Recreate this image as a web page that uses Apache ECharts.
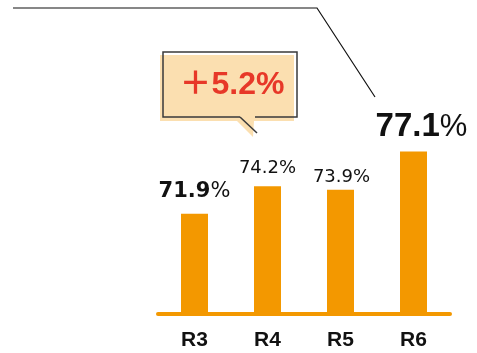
<!DOCTYPE html>
<html>
<head>
<meta charset="utf-8">
<style>html,body{margin:0;padding:0;background:#fff;}#c{width:477px;height:353px;}</style>
<script src="https://cdn.jsdelivr.net/npm/echarts@6/dist/echarts.min.js"></script>
</head>
<body>
<div id="c"></div>
<script>
const categories = ['R3', 'R4', 'R5', 'R6'];
const values = [71.9, 74.2, 73.9, 77.1];
const calloutText = '＋5.2%';

const ORANGE = '#F39800';
const chart = echarts.init(document.getElementById('c'), null, {renderer: 'canvas'});

const labelStyles = [
  {distance: 12, offset: [0, 0], fmt: v => '{b|' + v.toFixed(1) + '}{p|%}', rich: {b: {fontFamily: 'DejaVu Sans', fontWeight: 'bold', fontSize: 21, color: '#111'}, p: {fontFamily: 'DejaVu Sans', fontSize: 21, color: '#111'}}},
  {distance: 9, offset: [0, 0], fmt: v => '{n|' + v.toFixed(1) + '%}', rich: {n: {fontFamily: 'DejaVu Sans', fontSize: 18, color: '#111'}}},
  {distance: 4, offset: [1, 0], fmt: v => '{n|' + v.toFixed(1) + '%}', rich: {n: {fontFamily: 'DejaVu Sans', fontSize: 18, color: '#111'}}},
  {distance: 8, offset: [8, 0], fmt: v => '{b|' + v.toFixed(1) + '}{p|%}', rich: {b: {fontFamily: 'Liberation Sans', fontWeight: 'bold', fontSize: 33, color: '#111'}, p: {fontFamily: 'Liberation Sans', fontSize: 31, color: '#111'}}}
];

const seriesData = values.map((v, i) => ({
  value: v,
  label: {
    show: true,
    position: 'top',
    distance: labelStyles[i].distance,
    offset: labelStyles[i].offset,
    formatter: labelStyles[i].fmt(v),
    rich: labelStyles[i].rich
  }
}));

chart.setOption({
  animation: false,
  grid: {left: 158, right: 27, top: 117, bottom: 39},
  xAxis: {
    type: 'category',
    data: categories,
    axisTick: {show: false},
    axisLine: {show: true, lineStyle: {color: ORANGE, width: 4}},
    axisLabel: {color: '#111', fontFamily: 'Liberation Sans', fontWeight: 'bold', fontSize: 21, margin: 16}
  },
  yAxis: {
    type: 'value',
    min: 63.5,
    max: 80,
    show: false,
    splitLine: {show: false}
  },
  series: [{
    type: 'bar',
    data: seriesData,
    barWidth: 27,
    itemStyle: {color: ORANGE}
  }],
  graphic: [
    {
      type: 'polyline',
      shape: {points: [[13, 8], [317, 8], [375, 97]]},
      style: {stroke: '#111', lineWidth: 1.2, fill: null},
      z: 10
    },
    {
      type: 'polygon',
      shape: {points: [[160, 55], [294, 55], [294, 121], [254, 121], [253, 137], [237, 121], [160, 121]]},
      style: {fill: '#FBDFB0', stroke: null},
      z: 10
    },
    {
      type: 'polyline',
      shape: {points: [[240, 117], [163, 117], [163, 52], [297, 52], [297, 117], [255, 117]]},
      style: {stroke: '#3a3a3a', lineWidth: 1.5, fill: null},
      z: 11
    },
    {
      type: 'line',
      shape: {x1: 240, y1: 117, x2: 257, y2: 133},
      style: {stroke: '#3a3a3a', lineWidth: 1.5},
      z: 11
    },
    {
      type: 'text',
      x: 232,
      y: 85,
      style: {
        text: calloutText,
        fill: '#E73828',
        font: 'bold 32px "Liberation Sans", "Noto Sans CJK SC"',
        align: 'center',
        verticalAlign: 'middle'
      },
      z: 12
    }
  ]
});
</script>
</body>
</html>
